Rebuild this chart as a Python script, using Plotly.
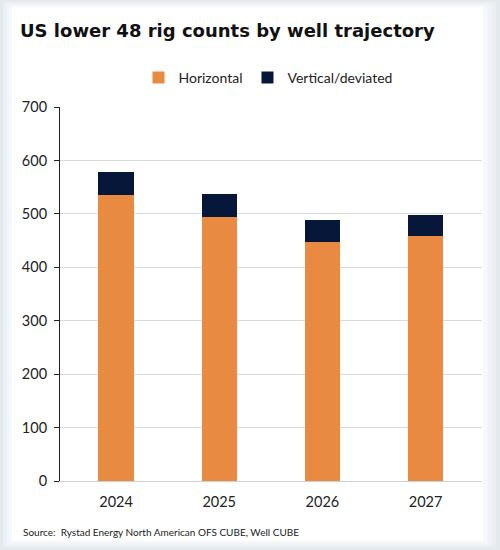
import plotly.graph_objects as go

years = ["2024", "2025", "2026", "2027"]
horizontal = [535, 494, 447, 458]
vertical = [44, 44, 42, 39]
y_ticks = [0, 100, 200, 300, 400, 500, 600, 700]

W, H = 500, 550
ML, MR, MT, MB = 60, 18, 107, 69
PW, PH = W - ML - MR, H - MT - MB

def px(x):
    return (x - ML) / PW

def py(y):
    return (H - MB - y) / PH

fig = go.Figure()
fig.add_trace(go.Bar(x=years, y=horizontal, name="Horizontal",
                     marker=dict(color="#E98A43", line=dict(width=0))))
fig.add_trace(go.Bar(x=years, y=vertical, name="Vertical/deviated",
                     marker=dict(color="#07173A", line=dict(width=0))))

# soft frame shading
shapes = []
layers = [(0, "#e4e9ee"), (3, "#ebeff3"), (6, "#f1f4f6"), (9, "#f7f8fa"), (12, "#ffffff")]
for inset, col in layers:
    shapes.append(dict(type="rect", xref="paper", yref="paper", layer="below",
                       x0=px(inset), x1=px(W - inset * 1.4), y0=py(inset * 0.6), y1=py(H - inset * 0.8),
                       fillcolor=col, line=dict(width=0)))

fig.update_layout(
    width=W, height=H,
    margin=dict(l=ML, r=MR, t=MT, b=MB, autoexpand=False),
    barmode="stack", bargap=0.66,
    paper_bgcolor="#e4e9ee", plot_bgcolor="rgba(0,0,0,0)",
    shapes=shapes,
    font=dict(family="Lato", color="#222222"),
    title=dict(text="<b>US lower 48 rig counts by well trajectory</b>",
               x=20 / W, xanchor="left", y=1 - 31 / H, yanchor="middle",
               font=dict(family="DejaVu Sans", size=18, color="#111111")),
    legend=dict(orientation="h", x=px(268), xanchor="center", y=py(78), yanchor="middle",
                font=dict(family="Lato", size=14, color="#222222"),
                bgcolor="rgba(0,0,0,0)", itemwidth=30, traceorder="normal"),
    xaxis=dict(range=[-0.543, 3.547], showgrid=False, showline=True, linecolor="#d0d0d0",
               linewidth=1, ticks="", ticklabelstandoff=8,
               tickfont=dict(size=14.5, color="#222222"), fixedrange=True),
    yaxis=dict(range=[0, 700], tickvals=y_ticks, showgrid=True, gridcolor="#dadada", gridwidth=1,
               showline=True, linecolor="#222222", linewidth=1, ticks="outside", ticklen=5,
               ticklabelstandoff=4,
               tickcolor="#222222", tickfont=dict(size=14.5, color="#222222"), zeroline=False,
               fixedrange=True),
    annotations=[dict(text="Source:  Rystad Energy North American OFS CUBE, Well CUBE",
                      xref="paper", yref="paper", x=px(21), y=py(532), xanchor="left",
                      yanchor="middle", showarrow=False,
                      font=dict(family="Lato", size=10, color="#222222"))],
)

fig.write_html("out.html", config={"displayModeBar": False},
               post_script="document.body.style.margin='0';document.body.style.padding='0';")
